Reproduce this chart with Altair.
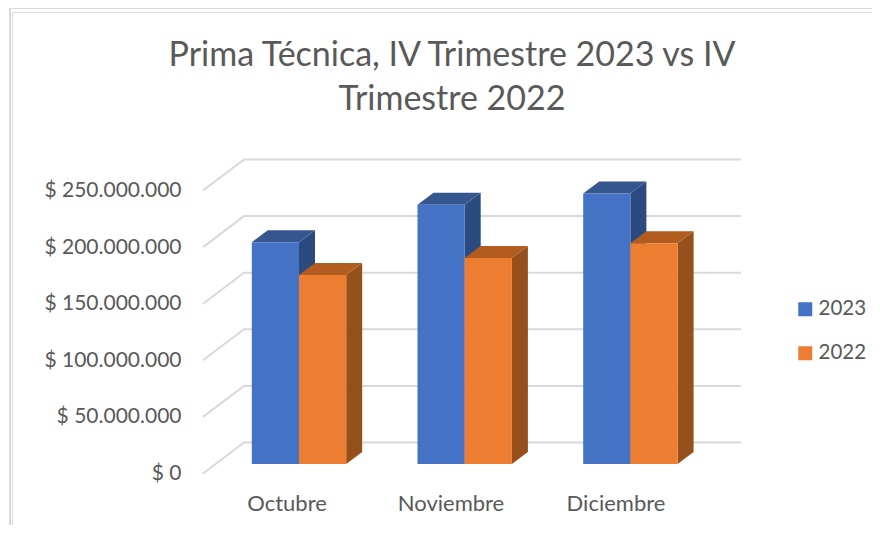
import altair as alt
import pandas as pd

categories = ["Octubre", "Noviembre", "Diciembre"]
series_names = ["2023", "2022"]
values_2023 = [196e6, 229e6, 239e6]
values_2022 = [167e6, 182e6, 195e6]
ticks = [0, 50e6, 100e6, 150e6, 200e6, 250e6]
title_lines = ["Prima Técnica, IV Trimestre 2023 vs IV", "Trimestre 2022"]

FRONT = {"2023": "#4472C4", "2022": "#ED7D31"}
TOP = {"2023": "#35568F", "2022": "#B35C20"}
SIDE = {"2023": "#2B4A7F", "2022": "#96501C"}
TEXT = "#595959"
GRID = "#D9D9D9"
FONT = "Lato"

# layout (page pixels of the view)
L, T, R, B = 12, 12, 872, 525
W, H = R - L, B - T
PX_U, X0 = 165.7, 299.0
PX_V, Y0 = 56.6 / 50e6, 473.5
xdom = [(L - X0) / PX_U, (R - X0) / PX_U]
ydom = [(Y0 - B) / PX_V, (Y0 - T) / PX_V]
xs = alt.Scale(domain=xdom, nice=False, zero=False)
ys = alt.Scale(domain=ydom, nice=False, zero=False)
y_axis = alt.Axis(
    values=ticks,
    title=None,
    domain=False,
    ticks=False,
    grid=False,
    offset=-(181 - L),
    labelPadding=0,
    labelFontSize=21,
    labelFont=FONT,
    labelColor=TEXT,
    labelExpr="'$ ' + replace(format(datum.value, ',d'), /,/g, '.')",
)
X = lambda: alt.X("x:Q", scale=xs, axis=None)
Y = lambda: alt.Y("y:Q", scale=ys, axis=y_axis)
BAR_W = 47.2 / PX_U
DX, DY = 16 / PX_U, 12 / PX_V
BASE = 9.5 / PX_V
WALL_DX, WALL_DY = 41 / PX_U, 31 / PX_V
WALL_X0, WALL_X2 = (203 - X0) / PX_U, (741 - X0) / PX_U

grid = pd.DataFrame(
    [
        dict(t=t, o=o, x=x, y=y)
        for t in ticks
        for o, (x, y) in enumerate(
            [(WALL_X0, t), (WALL_X0 + WALL_DX, t + WALL_DY), (WALL_X2, t + WALL_DY)]
        )
    ]
)
grid_layer = alt.Chart(grid).mark_line(color=GRID, strokeWidth=2).encode(
    x=X(), y=Y(), detail="t:N", order="o:Q"
)

layers = [grid_layer]
series_vals = {"2023": values_2023, "2022": values_2022}
front_rows = []
for j, s in enumerate(series_names):
    top_rows, side_rows = [], []
    for i, c in enumerate(categories):
        v = series_vals[s][i] + BASE
        x0 = i + (j - 1) * BAR_W
        x1 = x0 + BAR_W
        side_rows += [
            dict(g=c, x=x1, y=v, y2=BASE),
            dict(g=c, x=x1 + DX, y=v + DY, y2=BASE + DY),
        ]
        top_rows += [
            dict(g=c, x=x0, y=v, y2=v),
            dict(g=c, x=x0 + DX, y=v + DY, y2=v),
            dict(g=c, x=x1, y=v + DY, y2=v),
            dict(g=c, x=x1 + DX, y=v + DY, y2=v + DY),
        ]
        front_rows.append(dict(s=s, x=x0, x2=x1, y=v, y2=BASE))
    for rows, col in ((side_rows, SIDE[s]), (top_rows, TOP[s])):
        layers.append(
            alt.Chart(pd.DataFrame(rows))
            .mark_area(color=col, orient="vertical")
            .encode(x=X(), y=Y(), y2="y2:Q", detail="g:N")
        )

front_layer = alt.Chart(pd.DataFrame(front_rows)).mark_rect().encode(
    x=X(),
    x2="x2:Q",
    y=Y(),
    y2="y2:Q",
    color=alt.Color(
        "s:N",
        scale=alt.Scale(domain=series_names, range=[FRONT[s] for s in series_names]),
        legend=alt.Legend(
            title=None,
            orient="none",
            legendX=795 - L,
            legendY=299 - T,
            padding=0,
            symbolType="square",
            symbolSize=196,
            symbolStrokeWidth=0,
            symbolOpacity=1,
            labelFont=FONT,
            labelFontSize=20.5,
            labelColor=TEXT,
            labelOffset=3,
            rowPadding=23,
        ),
    ),
)
layers.append(front_layer)

labels = pd.DataFrame(
    {
        "c": categories,
        "x": [(287 - X0) / PX_U, (451 - X0) / PX_U, (616 - X0) / PX_U],
        "y": [(Y0 - 504) / PX_V] * 3,
    }
)
layers.append(
    alt.Chart(labels)
    .mark_text(font=FONT, fontSize=22, color=TEXT, align="center", baseline="middle")
    .encode(x=X(), y=Y(), text="c:N")
)

frame = pd.DataFrame(
    {
        "x": [(10 - X0) / PX_U, (10 - X0) / PX_U, (872 - X0) / PX_U],
        "y": [(Y0 - 525) / PX_V, (Y0 - 8) / PX_V, (Y0 - 8) / PX_V],
        "o": [0, 1, 2],
    }
)
layers.append(
    alt.Chart(frame)
    .mark_line(color=GRID, strokeWidth=2)
    .encode(x=X(), y=Y(), order="o:Q")
)

chart = (
    alt.layer(*layers)
    .properties(
        width=W,
        height=H,
        padding={"left": 4, "top": 4, "right": 0, "bottom": 0},
        autosize=alt.AutoSizeParams(type="none"),
        title=alt.TitleParams(
            text=title_lines,
            anchor="middle",
            frame="group",
            offset=-113,
            font=FONT,
            fontSize=34,
            fontWeight="normal",
            color=TEXT,
            lineHeight=44,
            dx=10,
        ),
    )
    .configure_view(strokeWidth=0, stroke="transparent")
    .configure(background="white")
)

chart.save("out.html", embed_options={"renderer": "svg", "actions": False})
